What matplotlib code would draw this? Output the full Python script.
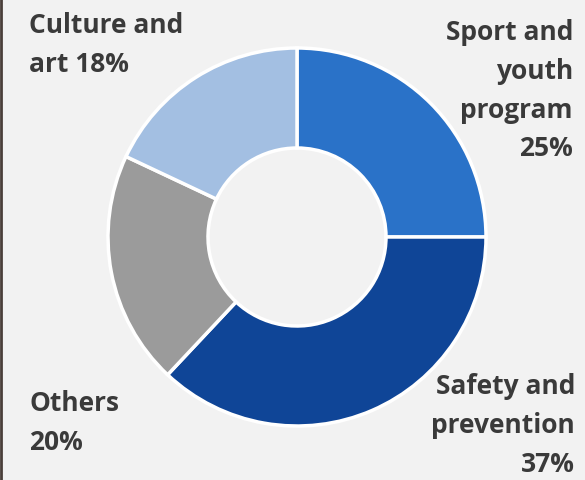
import matplotlib
matplotlib.use("Agg")
import matplotlib.pyplot as plt

categories = ["Sport and\nyouth\nprogram", "Safety and\nprevention", "Others", "Culture and\nart"]
shares = [25, 37, 20, 18]
colors = ["#2a72c8", "#0f4597", "#9b9b9b", "#a3bfe2"]

W, H = 585, 481
fig = plt.figure(figsize=(W / 100, H / 100), dpi=100, facecolor="#f2f2f2")
ax = fig.add_axes([0, 0, 1, 1])
ax.set_facecolor("#f2f2f2")

ax.pie(shares, colors=colors, startangle=90, counterclock=False,
       center=(297, H - 238), radius=189, frame=True,
       wedgeprops=dict(width=100, edgecolor="white", linewidth=2.5))
ax.set_xlim(0, W)
ax.set_ylim(0, H)
ax.set_aspect("equal")
ax.axis("off")

font = dict(family=["Open Sans", "DejaVu Sans"], fontweight="bold", fontsize=19,
            color="#3a3a3a", linespacing=1.56)

ax.text(29, H - 12, f"{categories[3]} {shares[3]}%", ha="left", va="top", **font)
ax.text(573, H - 19, f"{categories[0]}\n{shares[0]}%", ha="right", va="top", **font)
ax.text(575, H - 373, f"{categories[1]}\n{shares[1]}%", ha="right", va="top", **font)
ax.text(29, H - 390, f"{categories[2]}\n{shares[2]}%", ha="left", va="top", **font)

# thin dark border on the left edge
ax.plot([1, 1], [0, H], color="#4a3f3a", linewidth=2)

fig.savefig("out.png", dpi=100, facecolor=fig.get_facecolor())
